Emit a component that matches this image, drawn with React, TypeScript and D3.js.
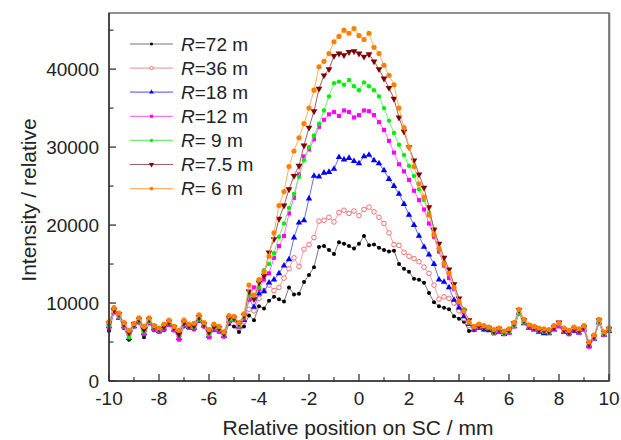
import React from 'react';
import * as d3 from 'd3';

// x grid: -10 mm to 10 mm, step 0.2 mm (101 samples per curve)
const X_START = -10;
const X_STEP = 0.2;

// Intensity values (relative), one per x sample
const R72 = [
  6400, 8900, 8300, 6800, 5300, 7000, 7500, 5600, 7400, 6500, 6300, 6500, 7200, 6500, 5400, 7000, 6800, 6600, 7700, 7000, 5700, 6500, 6400, 5700, 7300, 7000, 6300,
  7000, 8400, 7800, 9600, 9300, 10300, 10800, 10500, 10200, 12000, 11100, 11200, 12700, 13600, 14600, 17200, 17300, 16800, 16300, 17800, 17600, 17300, 17000,
  17600, 18600, 17400, 17500, 17100, 16800, 16600, 16700, 15000, 14400, 14000, 13100, 13000, 12600, 11300, 10100, 9600, 9400, 9200, 8300, 8000, 7600, 6400,
  6500, 6900, 6600, 6600, 6300, 6400, 6100, 6300, 7100, 8700, 7500, 6900, 6700, 6400, 6500, 6300, 6700, 7400, 6500, 6000, 6500, 6300, 6800, 4600, 5600, 7500, 6000, 6500,
];
const R36 = [
  7200, 9000, 8400, 7200, 6000, 7200, 7700, 6200, 7700, 6800, 6500, 6800, 7400, 6800, 5700, 7300, 7000, 6900, 8000, 7200, 6000, 6800, 6600, 6000, 7900, 8000, 7200,
  7600, 9200, 9000, 10600, 11600, 12300, 11600, 12000, 13200, 14400, 15800, 14700, 16900, 17500, 18400, 20500, 20600, 21000, 20400, 21600, 21900, 21500, 21800,
  21200, 22000, 22300, 21700, 21000, 20200, 19000, 17500, 17400, 16500, 16000, 15700, 15300, 14600, 13800, 12300, 10500, 10800, 10600, 10000, 9000, 8000, 7100,
  6800, 7000, 6800, 6700, 6300, 6500, 6200, 6400, 7200, 8700, 7600, 7000, 6800, 6500, 6400, 6300, 6800, 7200, 6500, 6200, 6600, 6400, 6800, 4500, 5600, 7600, 6000, 6600,
];
const R18 = [
  7000, 8800, 8100, 7000, 5500, 7000, 7600, 6100, 7600, 6700, 6400, 6700, 7300, 6600, 5500, 7200, 6900, 6800, 7900, 7100, 5800, 6700, 6500, 5800, 7700, 7800, 7000,
  7800, 10500, 9500, 11200, 11500, 12600, 13000, 13800, 14800, 15600, 18400, 20300, 20600, 23400, 26300, 26200, 26700, 26800, 27200, 28700, 28400, 28600, 28200,
  27900, 28800, 29000, 28300, 27900, 27000, 25900, 25000, 24000, 22700, 21300, 20000, 18600, 17200, 16200, 15000, 13000, 12700, 12000, 10400, 9400, 8300, 7300,
  6600, 6800, 6600, 6500, 6200, 6300, 6000, 6200, 7000, 8700, 7400, 6800, 6600, 6300, 6100, 6100, 6600, 7100, 6300, 6100, 6400, 6200, 6600, 4500, 5400, 7500, 5900, 6400,
];
const R12 = [
  6800, 8800, 8200, 6900, 5600, 7000, 7500, 6000, 7500, 6600, 6300, 6600, 7200, 6500, 5300, 7100, 6800, 6700, 7800, 7000, 5600, 6600, 6300, 5700, 7600, 7800, 6900,
  8000, 10400, 12000, 11800, 13000, 13800, 15800, 17300, 18600, 21500, 23500, 26500, 28800, 29700, 31000, 32600, 33500, 34200, 34500, 34000, 34700, 34500, 33800,
  34100, 34700, 34600, 34100, 33200, 32200, 30800, 29300, 27800, 26900, 25800, 24400, 23200, 22000, 20200, 18500, 16600, 14800, 13200, 11800, 10000, 8800, 7400,
  6700, 6900, 6800, 6800, 6100, 6400, 6000, 6200, 7000, 8600, 7500, 6900, 6700, 6400, 6300, 6200, 6700, 7000, 6400, 6000, 6500, 6200, 6700, 4400, 5400, 7400, 5900, 6500,
];
const R9 = [
  7100, 9000, 8300, 7100, 5600, 7200, 7700, 6300, 7600, 6900, 6500, 6900, 7500, 6800, 5800, 7300, 7000, 6900, 8000, 7200, 6000, 6800, 6600, 6000, 7800, 7900, 7100,
  8200, 11000, 10800, 12000, 14200, 15000, 16400, 18500, 20200, 22200, 24000, 26200, 28300, 30000, 31500, 33000, 34700, 36500, 38200, 38400, 38000, 38600, 37800,
  37300, 38300, 37800, 37300, 36500, 35000, 33400, 31800, 30300, 29000, 27600, 26300, 24600, 23200, 21600, 19500, 17000, 15200, 13800, 12000, 10400, 9200, 7500,
  6800, 7000, 6900, 6700, 6200, 6600, 6100, 6300, 7100, 8700, 7500, 7200, 6800, 6500, 6300, 6200, 6900, 7300, 6500, 6200, 6800, 6400, 7000, 4700, 5500, 7500, 6000, 6500,
];
const R7_5 = [
  7400, 9100, 8600, 7300, 6200, 7300, 7900, 6600, 7900, 7000, 6700, 7000, 7600, 6900, 6000, 7500, 7100, 7100, 8200, 7300, 6300, 7000, 6800, 6100, 8100, 8100, 7400,
  8400, 11500, 10500, 12600, 13500, 16500, 18200, 20800, 22500, 24600, 26300, 27600, 30200, 32500, 34600, 37500, 39200, 40000, 41700, 42000, 41800, 42200, 42300,
  42000, 41600, 41900, 41000, 40000, 38800, 37600, 36200, 33800, 32000, 30000, 28300, 26500, 24800, 22300, 19400, 17600, 15800, 14300, 12400, 10600, 9000, 7800,
  6900, 7100, 6900, 6800, 6400, 6700, 6300, 6500, 7400, 9100, 7800, 7100, 6900, 6600, 6500, 6400, 6900, 7500, 6600, 6300, 6700, 6500, 6900, 4800, 5700, 7800, 6200, 6700,
];
const R6 = [
  7600, 9400, 8700, 7500, 6500, 7400, 8100, 7000, 8100, 7100, 6800, 7300, 7800, 7000, 6500, 7800, 7300, 7400, 8500, 7500, 6600, 7300, 7000, 6300, 8400, 8300, 7500,
  8600, 12300, 11000, 13000, 14000, 16000, 19000, 22500, 24300, 27500, 29500, 31200, 33000, 35000, 37300, 40300, 41000, 42000, 43500, 44200, 45000, 44600, 45200,
  44300, 43800, 44600, 42800, 42000, 40500, 39200, 38000, 35000, 32500, 30000, 27500, 25300, 23600, 21300, 18800, 17000, 15000, 13800, 12000, 10200, 9000, 7600,
  7000, 7300, 7100, 6900, 6600, 6800, 6400, 6700, 7500, 9200, 7900, 7200, 7000, 6800, 6700, 6600, 7100, 7400, 6800, 6500, 6900, 6700, 7100, 5000, 5900, 7900, 6300, 6800,
];

const LEGEND_LABELS = ['=72 m', '=36 m', '=18 m', '=12 m', '= 9 m', '=7.5 m', '= 6 m'];
const X_TICKS = [-10, -8, -6, -4, -2, 0, 2, 4, 6, 8, 10];
const X_MINOR = [-9, -7, -5, -3, -1, 1, 3, 5, 7, 9];
const Y_TICKS = [0, 10000, 20000, 30000, 40000];
const Y_MINOR = [5000, 15000, 25000, 35000, 45000];

type Sym = 'dot' | 'ocircle' | 'tri' | 'square' | 'circle' | 'tridown' | 'big';
const STYLES: { data: number[]; color: string; line: string; sym: Sym }[] = [
  { data: R72, color: '#000000', line: '#777777', sym: 'dot' },
  { data: R36, color: '#f07070', line: '#f4a0a0', sym: 'ocircle' },
  { data: R18, color: '#0000ff', line: '#6a6aff', sym: 'tri' },
  { data: R12, color: '#ff00ff', line: '#ff70ff', sym: 'square' },
  { data: R9, color: '#00ee00', line: '#70f070', sym: 'circle' },
  { data: R7_5, color: '#800000', line: '#a06060', sym: 'tridown' },
  { data: R6, color: '#ff8000', line: '#ffb060', sym: 'big' },
];

const FONT = '"Liberation Sans", Arial, Helvetica, sans-serif';

function Marker({ sym, cx, cy, color, k = 1 }: { sym: Sym; cx: number; cy: number; color: string; k?: number }) {
  switch (sym) {
    case 'dot':
      return <circle cx={cx} cy={cy} r={2.0 * k} fill={color} />;
    case 'ocircle':
      return <circle cx={cx} cy={cy} r={2.3 * k} fill="white" stroke={color} strokeWidth={1} />;
    case 'tri':
      return <path d={d3.symbol().type(d3.symbolTriangle).size(18 * k * k)()!} transform={`translate(${cx},${cy})`} fill={color} />;
    case 'tridown':
      return <path d={d3.symbol().type(d3.symbolTriangle).size(20 * k * k)()!} transform={`translate(${cx},${cy}) rotate(180)`} fill={color} />;
    case 'square':
      return <path d={d3.symbol().type(d3.symbolSquare).size(17 * k * k)()!} transform={`translate(${cx},${cy})`} fill={color} />;
    case 'circle':
      return <circle cx={cx} cy={cy} r={2.2 * k} fill={color} />;
    case 'big':
      return <circle cx={cx} cy={cy} r={2.6 * k} fill={color} />;
  }
  return null;
}

export default function App() {
  const W = 621;
  const H = 440;
  const x = d3.scaleLinear().domain([-10, 10]).range([109, 609]);
  const y = d3.scaleLinear().domain([0, 47200]).range([381, 13]);
  const xAt = (i: number) => X_START + i * X_STEP;
  const line = d3
    .line<number>()
    .x((_, i) => x(xAt(i)))
    .y((d) => y(d));

  const legendX0 = 130;
  const legendX1 = 173;
  const legendY0 = 44;
  const legendDY = 24.1;

  return (
    <svg width={W} height={H} style={{ position: 'absolute', left: 0, top: 0, background: 'white' }} fontFamily={FONT}>
      {/* series */}
      {STYLES.map((s, si) => (
        <g key={si}>
          <path d={line(s.data)!} fill="none" stroke={s.line} strokeWidth={1} />
          {s.data.map((v, i) => (
            <Marker key={i} sym={s.sym} cx={x(xAt(i))} cy={y(v)} color={s.color} />
          ))}
        </g>
      ))}

      {/* frame */}
      <rect x={109} y={13} width={500} height={368} fill="none" stroke="#555" strokeWidth={1.3} />
      <line x1={109} x2={109} y1={13} y2={381} stroke="#333" strokeWidth={1.5} />
      <line x1={109} x2={609} y1={381} y2={381} stroke="#333" strokeWidth={1.5} />
      <line x1={609.5} x2={609.5} y1={13} y2={381.5} stroke="#777" strokeWidth={1.6} />

      {/* y axis ticks */}
      {Y_TICKS.map((t) => (
        <g key={t}>
          <line x1={109} x2={116} y1={y(t)} y2={y(t)} stroke="#333" strokeWidth={1.3} />
          <text x={99} y={y(t)} dy="0.35em" textAnchor="end" fontSize={19} fill="#222">
            {t}
          </text>
        </g>
      ))}
      {Y_MINOR.map((t) => (
        <line key={t} x1={109} x2={113.5} y1={y(t)} y2={y(t)} stroke="#333" strokeWidth={1.2} />
      ))}

      {/* x axis ticks */}
      {X_TICKS.map((t) => (
        <g key={t}>
          <line x1={x(t)} x2={x(t)} y1={381} y2={374} stroke="#333" strokeWidth={1.3} />
          <text x={x(t)} y={405} textAnchor="middle" fontSize={19} fill="#222">
            {t}
          </text>
        </g>
      ))}
      {X_MINOR.map((t) => (
        <line key={t} x1={x(t)} x2={x(t)} y1={381} y2={377} stroke="#333" strokeWidth={1.2} />
      ))}

      {/* axis titles */}
      <text x={358} y={435} textAnchor="middle" fontSize={21} fill="#222">
        Relative position on SC / mm
      </text>
      <text transform="translate(36,200) rotate(-90)" textAnchor="middle" fontSize={21} fill="#222">
        Intensity / relative
      </text>

      {/* legend */}
      {STYLES.map((s, si) => {
        const ly = legendY0 + si * legendDY;
        return (
          <g key={si}>
            <line x1={legendX0} x2={legendX1} y1={ly} y2={ly} stroke={s.line} strokeWidth={1.2} />
            <Marker sym={s.sym} cx={(legendX0 + legendX1) / 2} cy={ly} color={s.color} k={0.75} />
            <text x={181} y={ly} dy="0.35em" fontSize={19} fill="#222">
              <tspan fontStyle="italic">R</tspan>
              {LEGEND_LABELS[si]}
            </text>
          </g>
        );
      })}
    </svg>
  );
}
